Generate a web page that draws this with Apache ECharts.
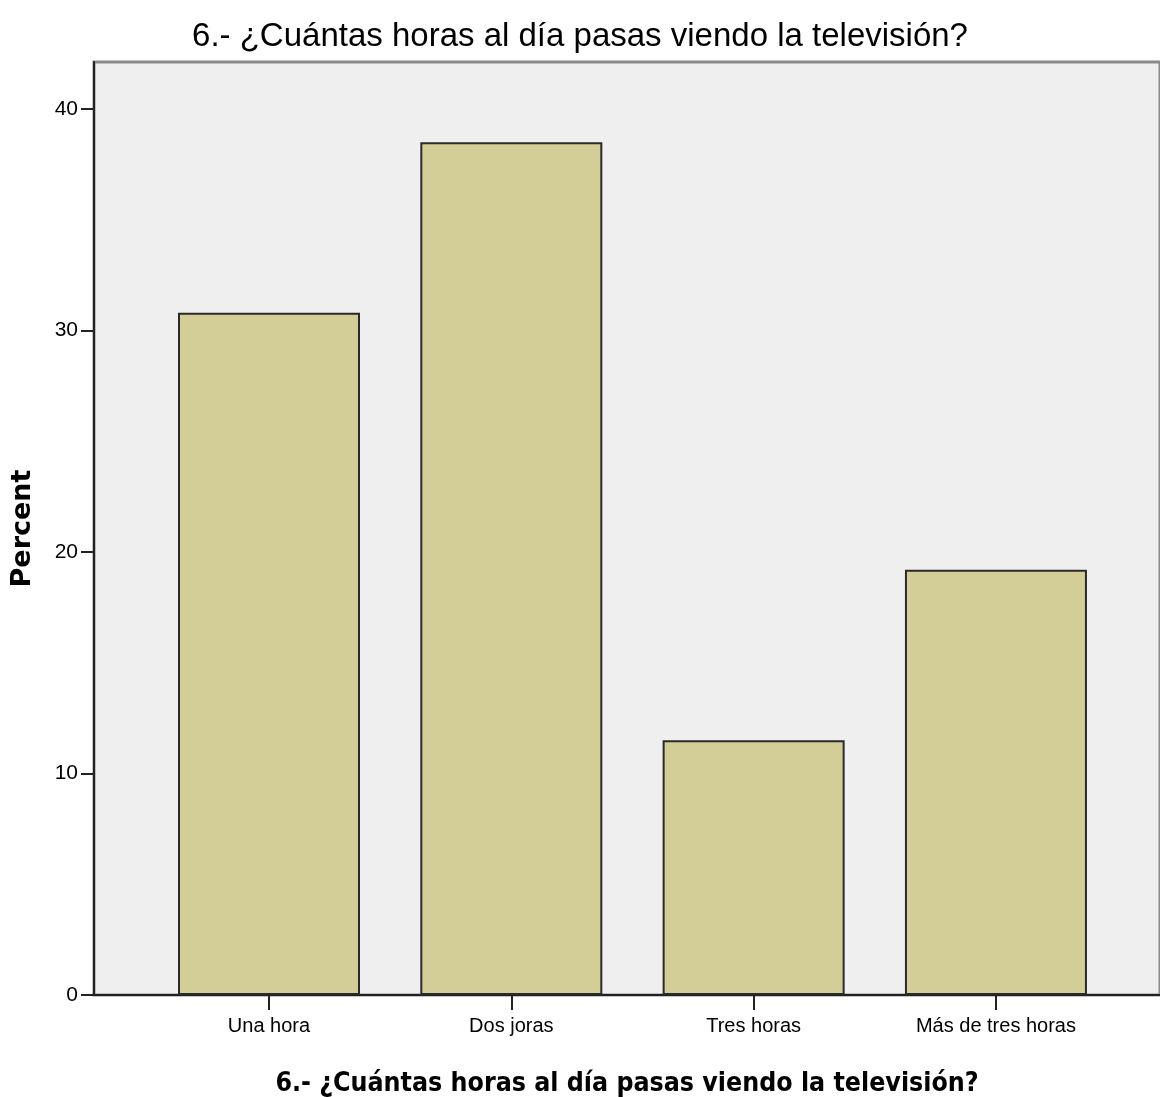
<!DOCTYPE html>
<html>
<head>
<meta charset="utf-8">
<script src="https://cdn.jsdelivr.net/npm/echarts@6/dist/echarts.min.js"></script>
<style>html,body{margin:0;padding:0;background:#fff}#c{width:1160px;height:1097px}</style>
</head>
<body>
<div id="c"></div>
<script>
const titleText = "6.- ¿Cuántas horas al día pasas viendo la televisión?";
const categories = ["Una hora", "Dos joras", "Tres horas", "Más de tres horas"];
const percentValues = [30.8, 38.5, 11.5, 19.2];
const yTicks = [0, 10, 20, 30, 40];
const xAxisTitle = "6.- ¿Cuántas horas al día pasas viendo la televisión?";
const yAxisTitle = "Percent";

const positions = categories.map((c, i) => i + 1);
const chart = echarts.init(document.getElementById('c'), null, {renderer: 'canvas'});
chart.setOption({
  animation: false,
  backgroundColor: '#ffffff',
  title: {
    text: titleText, left: 'center', top: 15,
    textStyle: {fontFamily: 'Liberation Sans', fontSize: 33, fontWeight: 'normal', color: '#000'}
  },
  grid: {left: 94, top: 62, right: 0, bottom: 102, outerBoundsMode: 'none', containLabel: false,
    show: true, backgroundColor: '#efefef', borderColor: '#8a8a8a', borderWidth: 3},
  xAxis: {
    type: 'value', min: 0.2778, max: 4.677,
    name: xAxisTitle, nameLocation: 'middle', nameGap: 76,
    nameTextStyle: {fontFamily: 'DejaVu Sans Condensed', fontWeight: 'bold', fontSize: 26.5, color: '#000'},
    axisLine: {show: true, onZero: false, lineStyle: {color: '#222', width: 2}},
    axisTick: {show: true, customValues: positions, length: 15, lineStyle: {color: '#222', width: 2}},
    axisLabel: {show: true, customValues: positions, margin: 21, fontFamily: 'Liberation Sans', fontSize: 20, color: '#000',
      formatter: v => categories[Math.round(v) - 1] || ''},
    splitLine: {show: false}
  },
  yAxis: {
    type: 'value', min: 0, max: 42.12, interval: 10,
    name: yAxisTitle, nameLocation: 'middle', nameGap: 58,
    nameTextStyle: {fontFamily: 'DejaVu Sans', fontWeight: 'bold', fontSize: 27, color: '#000'},
    axisLine: {show: true, lineStyle: {color: '#222', width: 2}},
    axisTick: {show: true, customValues: yTicks, length: 13, lineStyle: {color: '#222', width: 2}},
    axisLabel: {customValues: yTicks, fontFamily: 'Liberation Sans', fontSize: 21, color: '#000', margin: 16},
    splitLine: {show: false}
  },
  series: [{
    type: 'bar',
    data: positions.map((p, i) => [p, percentValues[i]]),
    barWidth: 182,
    itemStyle: {color: '#d3ce97', borderColor: '#2a2a2a', borderWidth: 2}
  }]
});
</script>
</body>
</html>
